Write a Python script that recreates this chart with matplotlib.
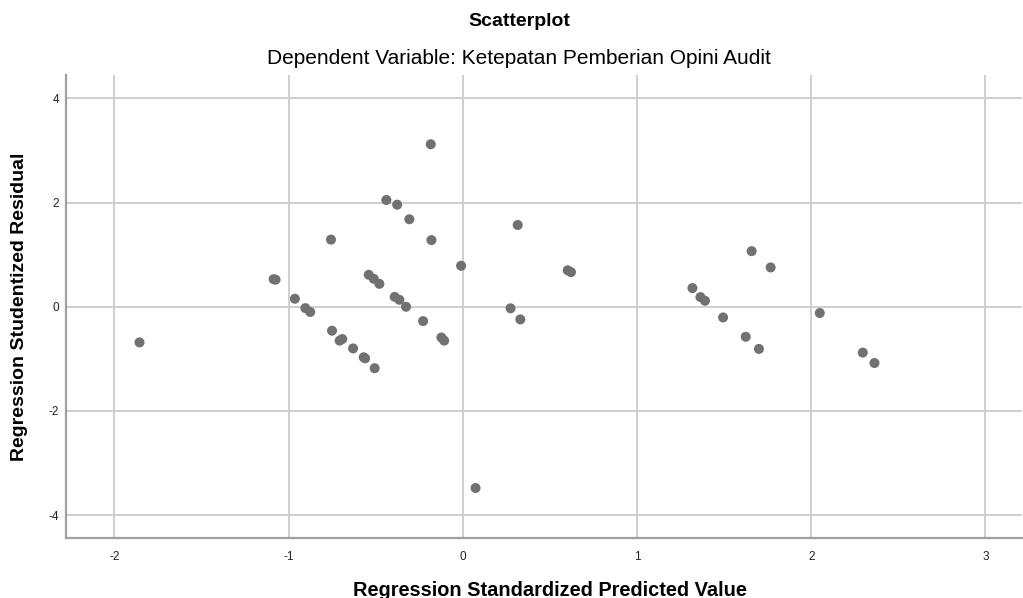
import matplotlib
matplotlib.use("Agg")
import matplotlib.pyplot as plt

plt.rcParams["font.family"] = ["Liberation Sans", "DejaVu Sans"]
plt.rcParams["axes.unicode_minus"] = False

TITLE = "Scatterplot"
SUBTITLE = "Dependent Variable: Ketepatan Pemberian Opini Audit"
X_LABEL = "Regression Standardized Predicted Value"
Y_LABEL = "Regression Studentized Residual"

# standardized predicted values (x) and studentized residuals (y)
pred_values = [
    -1.856, -1.086, -1.075, -0.964, -0.904, -0.876, -0.757, -0.751, -0.707, -0.692,
    -0.630, -0.569, -0.561, -0.506, -0.540, -0.511, -0.479, -0.439, -0.377, -0.307,
    -0.391, -0.364, -0.326, -0.228, -0.184, -0.180, -0.123, -0.107, -0.010, 0.073,
    0.274, 0.315, 0.330, 0.602, 0.621, 1.318, 1.364, 1.390, 1.494, 1.624,
    1.658, 1.700, 1.767, 2.049, 2.296, 2.363,
]
residuals = [
    -0.685, 0.53, 0.52, 0.154, -0.026, -0.10, 1.29, -0.46, -0.65, -0.62,
    -0.80, -0.97, -0.99, -1.18, 0.614, 0.537, 0.44, 2.05, 1.96, 1.68,
    0.19, 0.134, 0.0, -0.275, 3.12, 1.28, -0.59, -0.65, 0.787, -3.48,
    -0.03, 1.57, -0.243, 0.70, 0.665, 0.358, 0.186, 0.115, -0.205, -0.576,
    1.068, -0.81, 0.755, -0.12, -0.88, -1.08,
]

X_TICKS = [-2, -1, 0, 1, 2, 3]
Y_TICKS = [-4, -2, 0, 2, 4]

W, H = 1023, 598
fig = plt.figure(figsize=(W / 100, H / 100), dpi=100)
ax = fig.add_axes([66 / W, 1 - 538 / H, (1022 - 66) / W, (538 - 75) / H])

ax.scatter(pred_values, residuals, s=52, color="#717171", edgecolors="none", zorder=3)

ax.set_xlim(-2.278, 3.21)
ax.set_ylim(-4.44, 4.45)
ax.set_xticks(X_TICKS)
ax.set_yticks(Y_TICKS)
ax.grid(True, color="#cccccc", linewidth=1.3, zorder=0)
ax.tick_params(length=0, labelsize=8.5, colors="#222222")
ax.tick_params(axis="x", pad=9)
ax.tick_params(axis="y", pad=5)

for side in ("top", "right"):
    ax.spines[side].set_visible(False)
for side in ("left", "bottom"):
    ax.spines[side].set_color("#a0a0a0")
    ax.spines[side].set_linewidth(1.6)

fig.text(519 / W, 1 - 21 / H, TITLE, ha="center", va="center", fontsize=14, fontweight="bold")
fig.text(519 / W, 1 - 59 / H, SUBTITLE, ha="center", va="center", fontsize=15)
fig.text(550 / W, 1 - 596 / H, X_LABEL, ha="center", va="baseline", fontsize=14.4, fontweight="bold")
fig.text(20 / W, 1 - 307 / H, Y_LABEL, ha="center", va="center", rotation=90,
         fontsize=14, fontweight="bold")

fig.savefig("out.png", dpi=100)
